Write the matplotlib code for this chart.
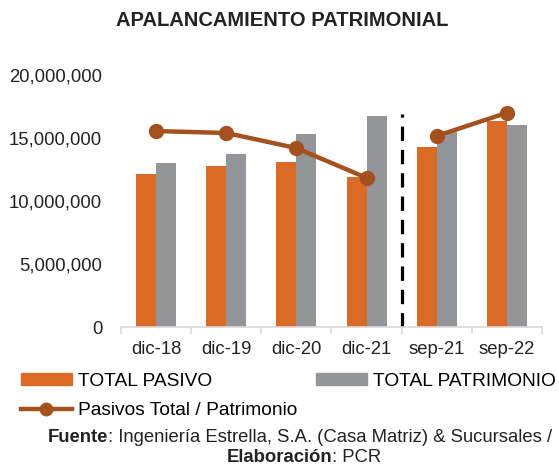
import numpy as np
import matplotlib.pyplot as plt
from matplotlib.patches import Patch
from matplotlib.lines import Line2D

plt.rcParams['font.family'] = ['Liberation Sans', 'DejaVu Sans']

# datos
periodos = ['dic-18', 'dic-19', 'dic-20', 'dic-21', 'sep-21', 'sep-22']
total_pasivo = [12150000, 12750000, 13100000, 11900000, 14300000, 16350000]
total_patrimonio = [13000000, 13750000, 15300000, 16750000, 15550000, 16050000]
ratio = [0.933, 0.924, 0.852, 0.71, 0.91, 1.02]

c_pasivo = '#D96B27'
c_patri = '#939598'
c_ratio = '#A5511F'
c_txt = '#222222'
fs = 13.3

fig = plt.figure(figsize=(5.59, 4.68), dpi=100)
ax = fig.add_axes([121/559, 141/468, 421/559, 252/468])

x = np.arange(len(periodos))
w = 0.285
ax.bar(x - w/2, total_pasivo, w, color=c_pasivo)
ax.bar(x + w/2, total_patrimonio, w, color=c_patri)

# separador entre dic-21 y sep-21
ax.plot([3.5, 3.5], [0, 16.9e6], color='black', lw=2.3, dashes=(4.5, 2.8))

ax.set_xlim(-0.5, 5.5)
ax.set_ylim(0, 20e6)
ax.set_yticks(np.arange(0, 20e6 + 1, 5e6))
ax.yaxis.set_major_formatter(plt.FuncFormatter(lambda v, p: '{:,.0f}'.format(v)))
ax.tick_params(axis='y', length=0, pad=13.5, labelsize=fs, colors=c_txt)
ax.set_xticks(x)
ax.set_xticklabels(periodos)
ax.set_xticks(np.arange(-0.5, 6, 1), minor=True)
ax.tick_params(axis='x', which='major', length=0, pad=10, labelsize=fs, colors=c_txt)
ax.tick_params(axis='x', which='minor', length=5, color='#D9D9D9', width=1.2)
for s in ['top', 'right', 'left']:
  ax.spines[s].set_visible(False)
ax.spines['bottom'].set_color('#D9D9D9')
ax.spines['bottom'].set_linewidth(1.2)

# eje secundario: la linea se corta en el separador
ax2 = ax.twinx()
ax2.plot(x[:4], ratio[:4], color=c_ratio, lw=3.2, marker='o', markersize=10)
ax2.plot(x[4:], ratio[4:], color=c_ratio, lw=3.2, marker='o', markersize=10)
ax2.set_ylim(0, 1.2)
ax2.set_yticks(np.arange(0, 1.21, 0.2))
ax2.yaxis.set_major_formatter(plt.FuncFormatter(lambda v, p: '{:.2f}'.format(v)))
ax2.tick_params(axis='y', length=0, pad=13, labelsize=fs, colors='#D0D0D0')
for s in ['top', 'right', 'left', 'bottom']:
  ax2.spines[s].set_visible(False)

fig.text(282.5/559, 1 - 20/468, 'APALANCAMIENTO PATRIMONIAL', ha='center', va='center',
         fontsize=14.5, fontweight='bold', color=c_txt)

handles = [Patch(color=c_pasivo),
           Line2D([], [], color=c_ratio, lw=3.2, marker='o', markersize=9),
           Patch(color=c_patri)]
labels = ['TOTAL PASIVO', 'Pasivos Total / Patrimonio', 'TOTAL PATRIMONIO']
fig.legend(handles, labels, ncol=2, loc='upper left', bbox_to_anchor=(21/559, 1 - 373/468),
           frameon=False, fontsize=13.8, handlelength=2.65, handleheight=0.55,
           handletextpad=0.3, columnspacing=1.0, labelspacing=0.62,
           borderaxespad=0, borderpad=0)

fig.text(108/559, 1 - 437/468, 'Fuente', ha='right', va='center', fontsize=fs, fontweight='bold', color=c_txt)
fig.text(108/559, 1 - 437/468, ': Ingeniería Estrella, S.A. (Casa Matriz) & Sucursales /', ha='left', va='center', fontsize=fs, color=c_txt)
fig.text(332/559, 1 - 457/468, 'Elaboración', ha='right', va='center', fontsize=fs, fontweight='bold', color=c_txt)
fig.text(332/559, 1 - 457/468, ': PCR', ha='left', va='center', fontsize=fs, color=c_txt)

plt.savefig('out.png', dpi=100)
plt.close()
